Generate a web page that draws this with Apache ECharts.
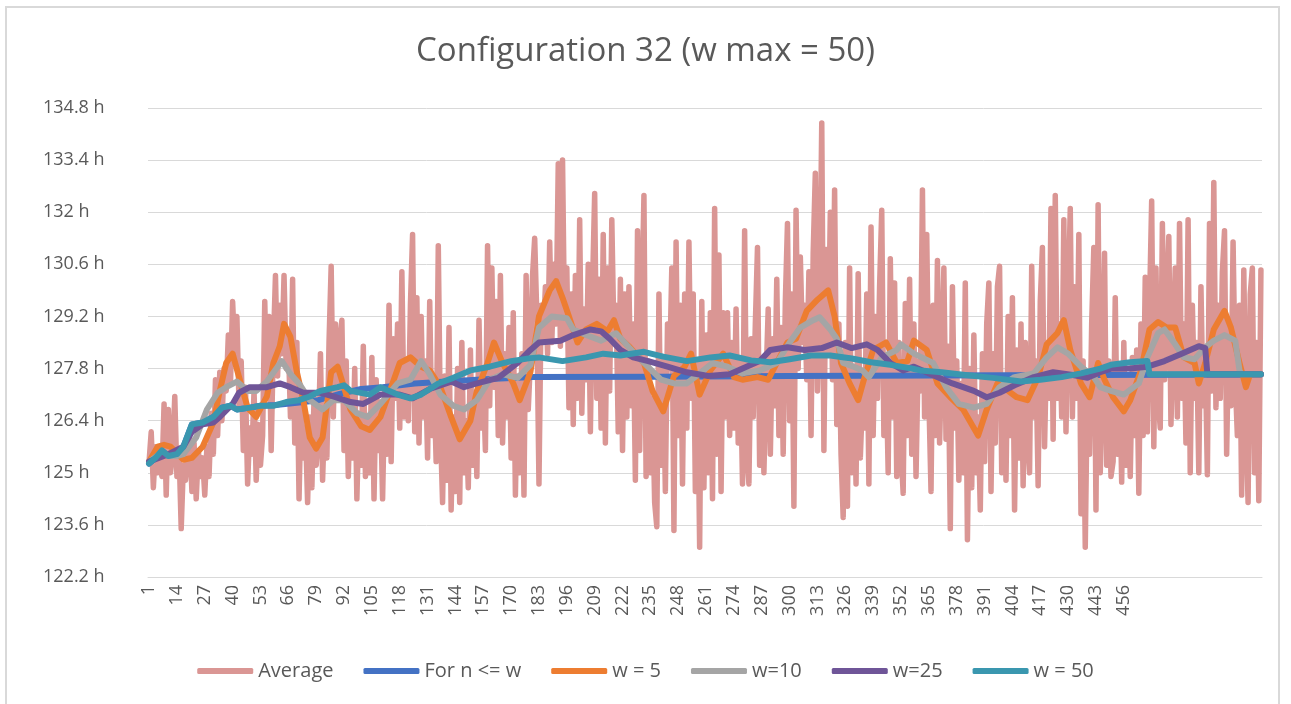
<!DOCTYPE html>
<html>
<head>
<meta charset="utf-8">
<script src="https://cdn.jsdelivr.net/npm/echarts@6/dist/echarts.min.js"></script>
<style>
  html, body { margin: 0; padding: 0; background: #fff; }
  #chart { width: 1291px; height: 704px; }
</style>
</head>
<body>
<div id="chart"></div>
<script>
// Run number axis: 520 runs, labels only for the first 468
const runCount = 520;
const labelledRuns = 468;
const categories = Array.from({ length: runCount }, (_, i) => (i < labelledRuns ? String(i + 1) : ''));

// Y axis ticks (hours)
const yMin = 122.2;
const yMax = 134.8;
const yStep = 1.4;

// Average run time per run (hours)
const average = [
  125.3, 126.1, 124.6, 125.7, 125.0, 125.4, 124.9, 126.85, 124.4, 126.7,
  125.0, 125.5, 127.05, 124.9, 125.6, 123.5, 125.2, 124.8, 125.5, 125.9,
  124.5, 125.8, 124.3, 125.6, 124.9, 125.4, 124.4, 125.7, 124.9, 126.6,
  125.5, 127.5, 126.0, 127.7, 126.4, 127.8, 127.2, 128.7, 127.4, 129.6,
  128.2, 129.2, 126.8, 128.0, 125.6, 127.3, 124.7, 126.2, 125.5, 127.2,
  124.8, 126.3, 125.2, 126.0, 129.6, 127.0, 129.2, 125.6, 128.4, 130.3,
  127.6, 129.5, 128.2, 130.3, 127.8, 128.5, 126.5, 130.2, 125.8, 128.5,
  124.3, 127.0, 125.4, 126.2, 124.2, 126.5, 124.6, 127.0, 125.2, 126.0,
  128.2, 124.8, 126.6, 125.4, 128.5, 130.55, 126.5, 129.0, 127.0, 128.5,
  129.1, 125.6, 128.0, 124.9, 127.2, 125.4, 127.8, 124.3, 126.6, 125.2,
  128.4, 124.9, 126.4, 125.0, 128.1, 124.3, 127.5, 125.6, 126.9, 124.3,
  127.2, 125.5, 129.5, 125.3, 128.6, 127.0, 129.0, 126.2, 130.4, 126.5,
  128.0, 126.4, 129.5, 131.4, 126.1, 129.7, 125.8, 129.2, 126.5, 128.0,
  125.4, 129.6, 126.0, 127.5, 125.3, 131.1, 126.2, 124.2, 127.6, 124.8,
  128.9, 124.0, 126.5, 124.5, 127.8, 124.2, 128.5, 125.0, 126.4, 124.6,
  128.3, 125.2, 127.0, 124.9, 129.1, 126.2, 127.4, 125.6, 131.1, 126.8,
  130.5, 127.3, 129.6, 126.0, 130.3, 125.8, 128.2, 126.5, 128.9, 125.4,
  129.3, 124.4, 127.6, 125.0, 128.2, 124.4, 130.3, 126.7, 128.0, 130.3,
  131.3, 129.2, 124.7, 129.5, 128.6, 130.0, 128.2, 131.2, 128.5, 130.6,
  129.0, 133.3, 128.4, 133.4, 128.6, 130.5, 126.75, 129.8, 126.3, 130.3,
  127.0, 131.8, 126.6, 129.4, 127.5, 130.6, 126.1, 130.0, 132.5, 127.0,
  130.2, 126.2, 131.4, 125.8, 130.5, 127.2, 131.8, 128.6, 129.5, 126.1,
  130.2, 125.6, 129.8, 126.5, 130.0, 126.8, 129.0, 124.8, 131.5, 125.6,
  129.5, 132.45, 124.9, 128.0, 125.0, 127.0, 124.2, 123.55, 129.8, 125.2,
  128.0, 124.5, 129.0, 127.8, 130.5, 123.45, 131.2, 126.0, 129.5, 124.7,
  129.8, 126.2, 131.2, 127.0, 129.8, 124.5, 128.0, 123.0, 129.6, 124.6,
  128.7, 125.0, 129.3, 124.3, 132.1, 125.5, 130.85, 124.5, 129.3, 126.5,
  129.3, 126.0, 128.5, 126.2, 129.4, 125.8, 128.0, 124.7, 131.5, 125.5,
  124.7, 128.6, 126.5, 129.0, 131.05, 125.2, 128.0, 125.0, 127.5, 129.4,
  125.5, 128.6, 126.8, 130.2, 126.0, 128.9, 125.5, 129.6, 131.7, 126.4,
  129.8, 124.1, 132.05, 127.8, 130.8, 128.5, 129.5, 127.5, 130.4, 126.0,
  130.9, 133.05, 127.2, 129.5, 134.4, 125.6, 131.0, 128.2, 132.0, 127.5,
  132.6, 126.3, 129.0, 125.5, 123.8, 128.5, 124.1, 130.5, 125.0, 127.8,
  124.7, 130.35, 125.4, 127.0, 126.2, 129.8, 124.7, 131.6, 126.0, 129.2,
  127.0, 130.0, 132.05, 126.0, 128.0, 125.0, 130.75, 126.5, 130.1, 124.9,
  128.5, 125.6, 124.45, 129.55, 126.0, 130.2, 125.5, 129.0, 124.9, 128.0,
  127.2, 132.6, 126.5, 131.4, 127.0, 124.5, 129.5, 126.0, 130.7, 125.8,
  128.0, 130.5, 125.9, 128.4, 123.5, 130.0, 126.2, 128.0, 124.8, 127.4,
  125.0, 130.1, 123.2, 127.8, 124.6, 128.7, 125.0, 126.5, 124.0, 128.2,
  125.3, 129.0, 130.1, 124.5, 128.2, 125.8, 130.0, 130.55, 125.0, 127.5,
  124.8, 129.2, 126.0, 129.7, 124.0, 128.3, 125.4, 129.0, 124.65, 128.5,
  126.0, 125.0, 130.55, 126.5, 128.0, 124.65, 129.6, 131.05, 125.7, 128.5,
  127.0, 132.1, 125.9, 132.45, 127.0, 129.0, 126.5, 131.8, 126.1, 129.5,
  132.1, 126.5, 130.0, 127.0, 131.4, 123.9, 128.0, 123.0, 127.5, 125.5,
  129.0, 131.05, 124.0, 132.2, 125.0, 127.5, 130.9, 125.2, 128.0, 124.9,
  125.3, 129.7, 125.5, 127.8, 124.75, 128.5, 125.2, 127.5, 124.9, 128.1,
  126.0, 128.3, 124.45, 129.0, 126.0, 130.25, 126.1, 129.5, 132.3, 125.7,
  130.5, 127.0, 126.2, 131.7, 127.5, 129.5, 131.35, 126.3, 128.5, 130.5,
  126.5, 131.7, 127.0, 129.0, 125.8, 131.8, 125.0, 129.5, 127.0, 128.5,
  125.0, 130.0, 126.8, 128.2, 124.95, 131.7, 127.2, 132.8, 126.75, 129.5,
  127.0, 130.4, 131.5, 125.5, 129.0, 126.8, 131.2, 127.5, 126.0, 129.5,
  124.4, 130.45, 126.5, 124.2, 129.8, 130.5, 125.0, 128.5, 124.25, 130.45
];

// "For n <= w": run numbers and values
const forNAt = [1, 4, 7, 10, 14, 17, 21, 26, 31, 35, 39, 42, 48, 53, 60, 70, 80, 90, 100, 110, 125, 140, 160, 180, 240, 300, 400, 520];
const forN = [125.25, 125.4, 125.6, 125.45, 125.5, 125.7, 126.3, 126.35, 126.5, 126.75, 126.8, 126.7, 126.75, 126.8, 126.82, 126.88, 126.95, 127.12, 127.25, 127.3, 127.4, 127.45, 127.52, 127.57, 127.58, 127.6, 127.62, 127.64];

// w = 5
const w5At = [1, 5, 8, 11, 17, 21, 26, 31, 34, 37, 40, 43, 47, 51, 56, 59, 62, 64, 67, 70, 73, 76, 79, 82, 86, 89, 92, 95, 100, 104, 109, 114, 118, 123, 128, 132, 137, 142, 146, 151, 154, 159, 162, 166, 171, 174, 179, 183, 188, 191, 194, 197, 201, 205, 210, 215, 218, 221, 225, 232, 236, 241, 246, 251, 254, 258, 263, 269, 274, 278, 285, 290, 294, 299, 303, 308, 313, 318, 321, 324, 328, 332, 335, 339, 345, 350, 355, 358, 364, 369, 375, 381, 388, 392, 397, 402, 406, 411, 416, 420, 425, 428, 431, 436, 440, 444, 447, 451, 456, 459, 464, 468, 472, 476, 480, 484, 489, 491, 494, 498, 503, 506, 510, 513, 515, 520];
const w5 = [125.3, 125.7, 125.75, 125.7, 125.35, 125.4, 125.7, 126.35, 127.2, 127.95, 128.2, 127.57, 126.75, 126.5, 127.05, 127.95, 128.4, 129.0, 128.65, 127.7, 126.95, 125.95, 125.65, 125.95, 127.7, 127.85, 127.3, 126.7, 126.25, 126.15, 126.5, 127.3, 127.95, 128.1, 127.85, 127.75, 127.3, 126.5, 125.9, 126.4, 127.2, 127.95, 128.5, 127.95, 127.4, 126.95, 127.7, 129.2, 129.9, 130.15, 129.7, 129.2, 128.5, 128.85, 129.0, 128.8, 129.1, 128.6, 128.4, 127.95, 127.2, 126.65, 127.6, 127.85, 128.2, 127.1, 127.75, 128.2, 127.57, 127.5, 127.57, 127.5, 127.95, 128.5, 128.6, 129.35, 129.65, 129.9, 129.2, 127.95, 127.4, 126.95, 127.57, 128.3, 128.5, 127.95, 128.0, 128.55, 128.3, 127.4, 127.03, 126.7, 126.0, 126.7, 127.4, 127.2, 127.03, 126.95, 127.57, 128.45, 128.75, 129.1, 128.3, 127.4, 127.03, 127.95, 127.5, 127.03, 126.65, 126.95, 127.75, 128.85, 129.05, 128.9, 128.9, 128.1, 127.95, 127.4, 127.95, 128.85, 129.35, 128.9, 127.95, 127.3, 127.65, 127.65];

// w=10
const w10At = [1, 7, 10, 14, 17, 23, 28, 33, 37, 42, 47, 51, 56, 61, 63, 67, 71, 76, 82, 87, 92, 98, 103, 109, 117, 123, 128, 132, 137, 143, 148, 154, 160, 166, 173, 179, 183, 189, 196, 199, 205, 212, 219, 225, 232, 240, 246, 252, 258, 264, 271, 278, 286, 294, 300, 305, 311, 314, 319, 322, 325, 330, 334, 337, 343, 350, 352, 358, 367, 373, 379, 386, 392, 398, 405, 414, 420, 425, 430, 436, 442, 445, 450, 456, 463, 467, 472, 475, 480, 484, 489, 494, 498, 503, 508, 510, 511, 520];
const w10 = [125.3, 125.55, 125.45, 125.45, 125.5, 125.95, 126.7, 127.15, 127.3, 127.45, 127.2, 127.2, 127.45, 127.85, 128.0, 127.65, 127.4, 126.95, 126.7, 126.95, 126.95, 126.6, 126.5, 126.85, 127.4, 127.5, 128.0, 127.65, 127.1, 126.8, 126.7, 126.95, 127.5, 127.65, 127.55, 127.9, 128.9, 129.2, 129.15, 128.85, 128.7, 128.55, 128.75, 128.37, 127.95, 127.5, 127.4, 127.4, 127.67, 127.95, 127.85, 127.67, 127.75, 127.95, 128.5, 128.9, 129.1, 129.18, 128.85, 128.6, 127.95, 127.85, 127.75, 127.57, 128.1, 128.3, 128.45, 128.2, 127.95, 127.3, 126.85, 126.75, 126.85, 127.3, 127.57, 127.67, 128.1, 128.37, 128.2, 127.85, 127.57, 127.3, 127.2, 127.1, 127.4, 128.1, 128.75, 128.85, 128.45, 128.1, 128.05, 128.37, 128.55, 128.7, 128.55, 127.75, 127.65, 127.65];

// w=25
const w25At = [1, 10, 17, 21, 26, 31, 34, 40, 43, 48, 56, 62, 67, 73, 81, 87, 95, 101, 109, 118, 124, 132, 142, 148, 154, 164, 173, 179, 183, 193, 199, 207, 212, 216, 221, 227, 234, 243, 252, 262, 272, 278, 286, 291, 299, 307, 315, 322, 329, 336, 341, 347, 353, 358, 367, 376, 386, 392, 398, 405, 414, 423, 433, 439, 445, 450, 459, 467, 475, 483, 491, 494, 495, 520];
const w25 = [125.3, 125.5, 125.7, 126.1, 126.3, 126.35, 126.5, 126.85, 127.15, 127.3, 127.3, 127.4, 127.3, 127.15, 127.15, 127.05, 126.9, 126.85, 127.1, 127.1, 127.0, 127.25, 127.45, 127.3, 127.4, 127.55, 127.95, 128.3, 128.5, 128.55, 128.7, 128.85, 128.8, 128.6, 128.3, 128.1, 128.0, 127.85, 127.7, 127.6, 127.65, 127.8, 128.0, 128.3, 128.37, 128.3, 128.35, 128.5, 128.35, 128.45, 128.3, 127.95, 127.75, 127.85, 127.62, 127.4, 127.2, 127.03, 127.15, 127.35, 127.57, 127.7, 127.62, 127.55, 127.7, 127.8, 127.8, 127.85, 128.0, 128.2, 128.4, 128.35, 127.65, 127.65];

// w = 50
const w50At = [1, 4, 7, 10, 14, 17, 21, 26, 31, 35, 39, 42, 48, 53, 59, 65, 71, 76, 81, 89, 92, 95, 104, 109, 117, 123, 128, 136, 143, 151, 160, 170, 179, 183, 194, 205, 213, 221, 232, 241, 252, 263, 272, 282, 291, 300, 310, 319, 329, 338, 347, 357, 361, 371, 383, 395, 408, 417, 427, 436, 445, 450, 459, 467, 468, 520];
const w50 = [125.25, 125.4, 125.6, 125.45, 125.5, 125.7, 126.3, 126.35, 126.5, 126.75, 126.8, 126.7, 126.75, 126.8, 126.8, 126.9, 126.95, 127.05, 127.2, 127.3, 127.35, 127.2, 127.1, 127.3, 127.1, 127.0, 127.1, 127.4, 127.55, 127.75, 127.85, 128.0, 128.08, 128.1, 128.0, 128.1, 128.2, 128.15, 128.25, 128.12, 128.0, 128.1, 128.15, 128.02, 127.97, 128.05, 128.15, 128.15, 128.07, 127.97, 127.9, 127.8, 127.75, 127.7, 127.62, 127.55, 127.45, 127.5, 127.57, 127.67, 127.8, 127.9, 127.97, 128.0, 127.65, 127.65];

const pairs = (at, vals) => at.map((n, i) => [n - 1, vals[i]]);

const textColor = '#595959';
const gridColor = '#D9D9D9';
const fontFamily = '"Open Sans", "Liberation Sans", sans-serif';

function lineSeries(name, color, data, width) {
  return {
    name: name,
    type: 'line',
    data: data,
    symbol: 'none',
    showSymbol: false,
    smooth: false,
    lineStyle: { color: color, width: width, cap: 'round', join: 'round' },
    itemStyle: { color: color },
    emphasis: { disabled: true },
    z: 2
  };
}

const chart = echarts.init(document.getElementById('chart'), null, { renderer: 'canvas' });

chart.setOption({
  animation: false,
  backgroundColor: '#ffffff',
  textStyle: { fontFamily: fontFamily },
  title: {
    text: 'Configuration 32 (w max = 50)',
    left: 'center',
    top: 30,
    textStyle: { fontFamily: fontFamily, fontSize: 33, fontWeight: 'normal', color: textColor }
  },
  graphic: [{
    type: 'rect',
    shape: { x: 6, y: 7, width: 1273, height: 720 },
    style: { fill: 'none', stroke: gridColor, lineWidth: 2 },
    silent: true,
    z: -10
  }],
  grid: { left: 148, right: 29, top: 108, bottom: 127, containLabel: false },
  legend: {
    bottom: 18,
    left: 'center',
    icon: 'roundRect',
    itemWidth: 56,
    itemHeight: 6,
    itemGap: 30,
    textStyle: { fontFamily: fontFamily, fontSize: 20, color: textColor },
    data: ['Average', 'For n <= w', 'w = 5', 'w=10', 'w=25', 'w = 50']
  },
  xAxis: {
    type: 'category',
    data: categories,
    boundaryGap: true,
    axisLine: { show: true, lineStyle: { color: gridColor, width: 1 } },
    axisTick: { show: false },
    axisLabel: {
      interval: 12,
      rotate: 90,
      margin: 8,
      fontFamily: fontFamily,
      fontSize: 18,
      color: textColor
    },
    splitLine: { show: false }
  },
  yAxis: {
    type: 'value',
    min: yMin,
    max: yMax,
    interval: yStep,
    axisLine: { show: false },
    axisTick: { show: false },
    axisLabel: {
      margin: 105,
      align: 'left',
      fontFamily: fontFamily,
      fontSize: 18,
      color: textColor,
      formatter: (v) => `${parseFloat(v.toFixed(1))} h`
    },
    splitLine: { show: true, lineStyle: { color: gridColor, width: 1 } }
  },
  series: [
    lineSeries('Average', '#DA9694', average, 5.5),
    lineSeries('For n <= w', '#4472C4', pairs(forNAt, forN), 6),
    lineSeries('w = 5', '#ED7D31', pairs(w5At, w5), 6),
    lineSeries('w=10', '#A5A5A5', pairs(w10At, w10), 6),
    lineSeries('w=25', '#6F5598', pairs(w25At, w25), 6),
    lineSeries('w = 50', '#3A97AF', pairs(w50At, w50), 6)
  ]
});
</script>
</body>
</html>
